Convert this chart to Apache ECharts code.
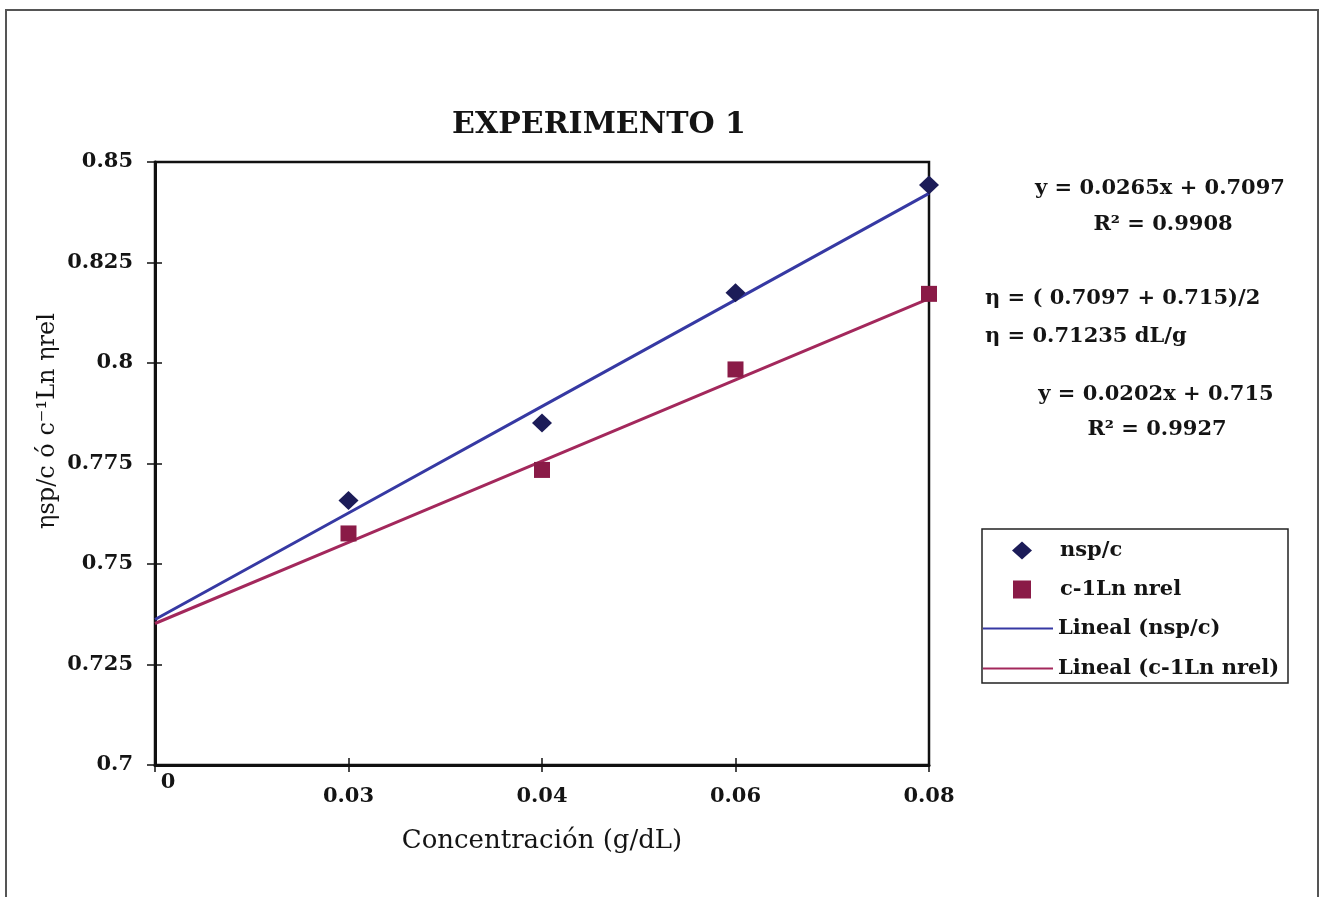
<!DOCTYPE html>
<html>
<head>
<meta charset="utf-8">
<title>EXPERIMENTO 1</title>
<script src="https://cdn.jsdelivr.net/npm/echarts@6/dist/echarts.min.js"></script>
<style>
  html, body { margin: 0; padding: 0; background: #fff; }
  #chart { width: 1321px; height: 897px; }
</style>
</head>
<body>
<div id="chart"></div>
<script>
// Concentration categories (g/dL) along the x axis
const categories = ['0', '0.03', '0.04', '0.06', '0.08'];

// Measured values: reduced viscosity and inherent viscosity
const nspC = [null, 0.7658, 0.7851, 0.8175, 0.8443];
const lnRel = [null, 0.7576, 0.7734, 0.7984, 0.8172];

// Linear fits as reported (x = category number 1..5)
const fitSlope = [0.0265, 0.0202];
const fitIntercept = [0.7097, 0.715];

// Annotation text
const eqLines = [
  'y = 0.0265x + 0.7097',
  'R² = 0.9908',
  'η = ( 0.7097 + 0.715)/2',
  'η = 0.71235 dL/g',
  'y = 0.0202x + 0.715',
  'R² = 0.9927'
];
const yTitle = 'ηsp/c ó c⁻¹Ln ηrel';

const trend = (k) => categories.map((c, i) => +(fitSlope[k] * (i + 1) + fitIntercept[k]).toFixed(5));

const FONT = 'DejaVu Serif';
const INK = '#141414';
const NAVY = '#1c1c58';
const MAROON = '#8a1b47';
const BLUE_LINE = '#3639a3';
const RED_LINE = '#a3285c';

const chart = echarts.init(document.getElementById('chart'));

const textEl = (x, y, text, align) => ({
  type: 'text', x: x, y: y, z: 10,
  style: { text: text, fill: INK, font: 'bold 21px "' + FONT + '"', textAlign: align, textVerticalAlign: 'middle' }
});

const legendText = { fontFamily: FONT, fontWeight: 'bold', fontSize: 21, lineHeight: 20, color: INK };

chart.setOption({
  animation: false,
  backgroundColor: '#ffffff',
  title: {
    text: 'EXPERIMENTO 1',
    left: 594, top: 105, textAlign: 'center',
    textStyle: { fontFamily: FONT, fontWeight: 'bold', fontSize: 30, color: INK }
  },
  grid: {
    left: 155, right: 392, top: 162, bottom: 132,
    show: true, borderColor: '#111', borderWidth: 2.5, backgroundColor: 'transparent'
  },
  xAxis: [{
    type: 'category', data: categories, boundaryGap: false,
    axisLine: { lineStyle: { color: '#111', width: 3 } },
    axisTick: { alignWithLabel: true, length: 7, lineStyle: { color: '#111', width: 1.5 } },
    axisLabel: {
      margin: 7, color: INK, fontFamily: FONT, fontWeight: 'bold', fontSize: 21,
      formatter: (v, i) => i === 0 ? '{z|' + v + '}' : '{n|' + v + '}',
      rich: {
        z: { padding: [0, 0, 0, 26], fontFamily: FONT, fontWeight: 'bold', fontSize: 21, color: INK },
        n: { padding: [14, 0, 0, 0], fontFamily: FONT, fontWeight: 'bold', fontSize: 21, color: INK }
      }
    },
    splitLine: { show: false },
    name: 'Concentración (g/dL)', nameLocation: 'middle', nameGap: 63,
    nameTextStyle: { fontFamily: FONT, fontSize: 26, color: INK }
  }, {
    type: 'category', data: categories, boundaryGap: false, position: 'bottom',
    axisLine: { show: false },
    axisTick: { inside: true, length: 7, lineStyle: { color: '#111', width: 1.5 } },
    axisLabel: { show: false }, splitLine: { show: false }
  }],
  yAxis: [{
    type: 'value', min: 0.7, max: 0.85, interval: 0.025,
    axisLine: { show: true, lineStyle: { color: '#111', width: 3 } },
    axisTick: { show: true, length: 8, lineStyle: { color: '#111', width: 1.5 } },
    axisLabel: { margin: 22, color: INK, fontFamily: FONT, fontWeight: 'bold', fontSize: 21 },
    splitLine: { show: false }
  }, {
    type: 'value', min: 0.7, max: 0.85, interval: 0.025, position: 'left',
    axisLine: { show: false },
    axisTick: { show: true, inside: true, length: 7, lineStyle: { color: '#111', width: 1.5 } },
    axisLabel: { show: false }, splitLine: { show: false }
  }],
  legend: [{
    orient: 'vertical', left: 1012, top: 540, padding: 0,
    itemWidth: 20, itemHeight: 18, itemGap: 18,
    textStyle: Object.assign({ padding: [0, 0, 0, 23] }, legendText),
    data: [
      { name: 'nsp/c', icon: 'diamond' },
      { name: 'c-1Ln nrel', icon: 'path://M0,0L10,0L10,10L0,10Z' }
    ]
  }, {
    orient: 'vertical', left: 983, top: 618, padding: 0,
    itemWidth: 70, itemHeight: 14, itemGap: 19,
    textStyle: legendText,
    data: [
      { name: 'Lineal (nsp/c)', icon: 'path://M0,0H70V2.2H0Z' },
      { name: 'Lineal (c-1Ln nrel)', icon: 'path://M0,0H70V2.2H0Z' }
    ]
  }],
  series: [{
    name: 'Lineal (nsp/c)', type: 'line', data: trend(0),
    symbol: 'none', clip: false, z: 2,
    lineStyle: { color: BLUE_LINE, width: 3 }, itemStyle: { color: BLUE_LINE }
  }, {
    name: 'Lineal (c-1Ln nrel)', type: 'line', data: trend(1),
    symbol: 'none', clip: false, z: 2,
    lineStyle: { color: RED_LINE, width: 3 }, itemStyle: { color: RED_LINE }
  }, {
    name: 'nsp/c', type: 'scatter', data: nspC,
    symbol: 'diamond', symbolSize: [20, 19], clip: false, z: 3,
    itemStyle: { color: NAVY, opacity: 1 }
  }, {
    name: 'c-1Ln nrel', type: 'scatter', data: lnRel,
    symbol: 'rect', symbolSize: 16, clip: false, z: 3,
    itemStyle: { color: MAROON, opacity: 1 }
  }],
  graphic: [
    { type: 'rect', z: 0, shape: { x: 6, y: 10, width: 1312, height: 900 },
      style: { fill: 'none', stroke: '#555', lineWidth: 2 } },
    { type: 'rect', z: 0, shape: { x: 982, y: 529, width: 306, height: 154 },
      style: { fill: 'none', stroke: '#222', lineWidth: 1.5 } },
    { type: 'text', x: 48, y: 421, rotation: Math.PI / 2, z: 10,
      style: { text: yTitle, fill: INK, font: '24px "' + FONT + '"', textAlign: 'center', textVerticalAlign: 'middle' } },
    textEl(1160, 189, eqLines[0], 'center'),
    textEl(1163, 225, eqLines[1], 'center'),
    textEl(985, 299, eqLines[2], 'left'),
    textEl(985, 337, eqLines[3], 'left'),
    textEl(1156, 395, eqLines[4], 'center'),
    textEl(1157, 430, eqLines[5], 'center')
  ]
});
</script>
</body>
</html>
